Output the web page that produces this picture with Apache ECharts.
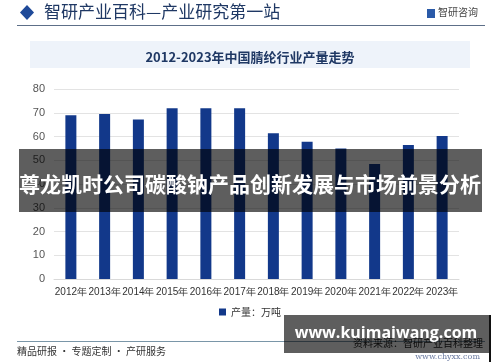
<!DOCTYPE html>
<html>
<head>
<meta charset="utf-8">
<script src="https://cdn.jsdelivr.net/npm/echarts@6/dist/echarts.min.js"></script>
<style>html,body{margin:0;padding:0;background:#fff;}#c{width:500px;height:362px;}</style>
</head>
<body>
<div id="c"></div>
<script>
const categories = ['2012年','2013年','2014年','2015年','2016年','2017年','2018年','2019年','2020年','2021年','2022年','2023年'];
const production = [69.0, 69.5, 67.2, 71.9, 71.9, 71.9, 61.4, 57.8, 55.0, 48.4, 56.4, 60.2];
const seriesName = '产量：万吨';
const chartTitle = '2012-2023年中国腈纶行业产量走势';
const headerText = '智研产业百科—产业研究第一站';
const overlayText = '尊龙凯时公司碳酸钠产品创新发展与市场前景分析';
const siteText = 'www.kuimaiwang.com';

const chart = echarts.init(document.getElementById('c'), null, {renderer: 'canvas'});
const cjk = '"Noto Sans CJK SC", "Noto Sans", sans-serif';
const latin = 'Liberation Sans, Arial, sans-serif';
chart.setOption({
  animation: false,
  backgroundColor: '#ffffff',
  grid: {left: 54, right: 41, top: 89, bottom: 83, containLabel: false},
  xAxis: {
    type: 'category', data: categories,
    axisLine: {show: true, lineStyle: {color: '#d9d9d9'}},
    axisTick: {show: false},
    axisLabel: {color: '#333', fontSize: 10, fontFamily: latin, margin: 8, interval: 0}
  },
  yAxis: {
    type: 'value', min: 0, max: 80, interval: 10,
    axisLine: {show: false}, axisTick: {show: false},
    axisLabel: {color: '#555', fontSize: 11, fontFamily: latin, margin: 9},
    splitLine: {lineStyle: {color: '#e3e3e3'}}
  },
  legend: {
    show: true, bottom: 40, left: 'center', itemWidth: 7, itemHeight: 7, icon: 'rect',
    textStyle: {color: '#333', fontSize: 10, fontFamily: cjk},
    data: [seriesName]
  },
  series: [{
    type: 'bar', name: seriesName, data: production, barWidth: 11,
    itemStyle: {color: '#12388a'}
  }],
  graphic: [
    {type: 'polygon', shape: {points: [[27,5],[34,12.5],[27,20],[20,12.5]]}, style: {fill: '#1f4a99'}, z: 10},
    {type: 'text', left: 44, top: 3, style: {text: headerText, fill: '#1f3864', font: '17px ' + cjk}, z: 10},
    {type: 'line', shape: {x1: 17, y1: 25.5, x2: 485, y2: 25.5}, style: {stroke: '#5d6f88', lineWidth: 1}, z: 10},
    {type: 'rect', shape: {x: 427, y: 9, width: 8, height: 9}, style: {fill: '#2a5aa8'}, z: 10},
    {type: 'text', left: 438, top: 7, style: {text: '智研咨询', fill: '#444', font: '10px ' + cjk}, z: 10},
    {type: 'rect', shape: {x: 30, y: 41, width: 440, height: 27}, style: {fill: '#eef3fa'}, z: 0},
    {type: 'text', x: 250, y: 57, style: {text: chartTitle, fill: '#1f3864', font: 'bold 13px ' + cjk, textAlign: 'center', textVerticalAlign: 'middle'}, z: 10},
    {type: 'line', shape: {x1: 17, y1: 341.5, x2: 485, y2: 341.5}, style: {stroke: '#7a96a8', lineWidth: 1}, z: 10},
    {type: 'text', left: 17, top: 346, style: {text: '精品研报 · 专题定制 · 产研服务', fill: '#333', font: '10px ' + cjk}, z: 10},
    {type: 'text', x: 483, y: 343, style: {text: '资料来源：智研产业百科整理', fill: '#222', font: '10px ' + cjk, textAlign: 'right', textVerticalAlign: 'middle'}, z: 10},
    {type: 'text', x: 480, y: 357, style: {text: 'www.chyxx.com', fill: '#6a7aa0', font: '8px DejaVu Serif, serif', textAlign: 'right', textVerticalAlign: 'middle'}, z: 30},
    {type: 'rect', shape: {x: 19, y: 149, width: 463, height: 63}, style: {fill: 'rgba(0,0,0,0.63)'}, z: 20},
    {type: 'text', x: 250, y: 184, style: {text: overlayText, fill: '#fff', font: 'bold 21px ' + cjk, textAlign: 'center', textVerticalAlign: 'middle'}, z: 21},
    {type: 'rect', shape: {x: 284, y: 315, width: 206, height: 38}, style: {fill: 'rgba(0,0,0,0.63)'}, z: 20},
    {type: 'line', shape: {x1: 490, y1: 315, x2: 490, y2: 362}, style: {stroke: '#111', lineWidth: 2}, z: 21},
    {type: 'text', x: 386, y: 333, style: {text: siteText, fill: '#fff', font: 'bold 16px "Open Sans", sans-serif', textAlign: 'center', textVerticalAlign: 'middle'}, z: 21}
  ]
});
</script>
</body>
</html>
